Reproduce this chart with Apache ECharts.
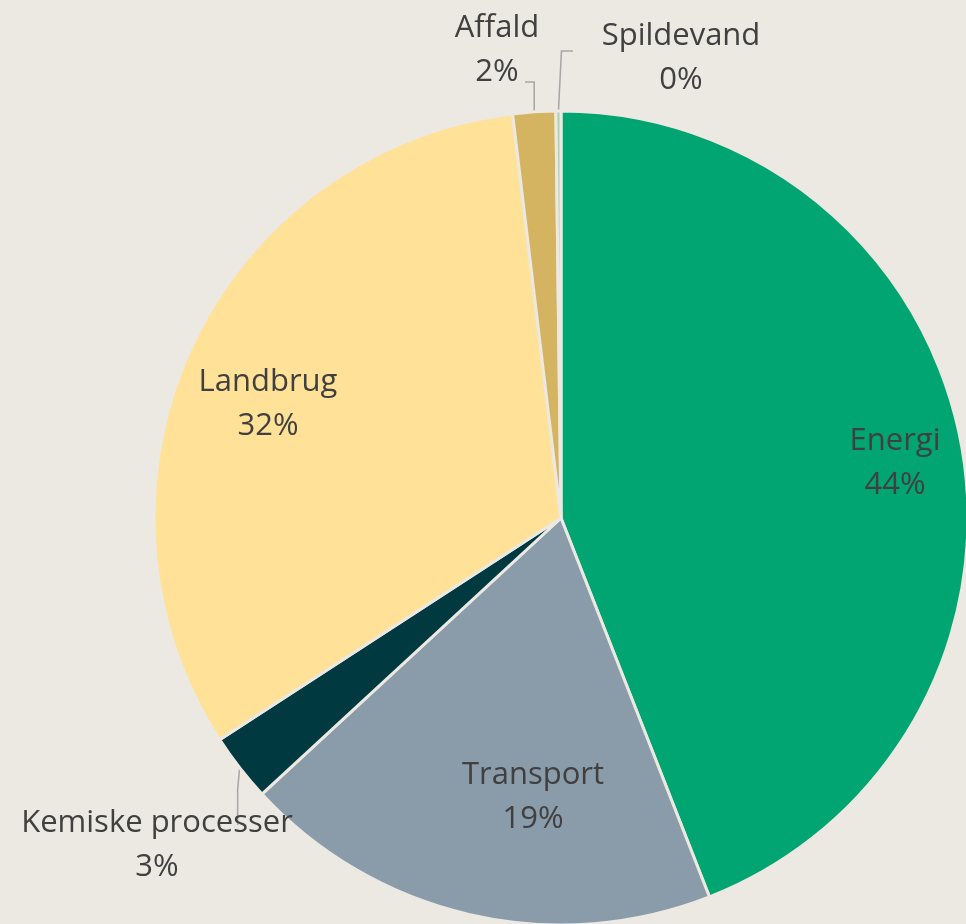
<!DOCTYPE html>
<html>
<head>
<meta charset="utf-8">
<script src="https://cdn.jsdelivr.net/npm/echarts@6/dist/echarts.min.js"></script>
<style>
html,body{margin:0;padding:0;background:#ECE8E2;}
#chartDiv{width:966px;height:924px;}
</style>
</head>
<body>
<div id="chartDiv"></div>
<script>
// udledning fordelt på sektorer
var sectorNames = ['Energi', 'Transport', 'Kemiske processer', 'Landbrug', 'Affald', 'Spildevand'];
var sectorValues = [44.1, 19.1, 2.7, 32.3, 1.7, 0.2];
var sectorColors = ['#00A572', '#8A9BA9', '#003A40', '#FFE197', '#D4B460', '#A9D6AE'];

// hvor teksterne står (midtpunkt af label)
var labelSpots = {
	'Energi': [895, 463],
	'Transport': [533, 797],
	'Landbrug': [268, 404],
	'Kemiske processer': [157, 845],
	'Affald': [497, 50],
	'Spildevand': [681, 58]
};
var outsideNames = ['Kemiske processer', 'Affald', 'Spildevand'];

var myChart = echarts.init(document.getElementById('chartDiv'));

var seriesData = [];
for (var i = 0; i < sectorNames.length; i++) {
	var outside = outsideNames.indexOf(sectorNames[i]) >= 0;
	seriesData.push({
		name: sectorNames[i],
		value: sectorValues[i],
		itemStyle: {color: sectorColors[i]},
		label: {position: outside ? 'outside' : 'inside'},
		labelLine: {show: outside}
	});
}

var option = {
	backgroundColor: '#ECE8E2',
	animation: false,
	series: [{
		type: 'pie',
		center: [561, 518],
		radius: 407,
		startAngle: 90,
		clockwise: true,
		percentPrecision: 0,
		avoidLabelOverlap: false,
		minShowLabelAngle: 0,
		itemStyle: {borderColor: '#ECE8E2', borderWidth: 3},
		label: {
			show: true,
			formatter: '{b}\n{d}%',
			color: '#404040',
			fontFamily: 'Open Sans',
			fontSize: 31,
			lineHeight: 44,
			align: 'center'
		},
		labelLine: {
			lineStyle: {color: '#A6A6A6', width: 1.5},
			length: 20,
			length2: 10
		},
		labelLayout: function(params) {
			var name = sectorNames[params.dataIndex];
			var spot = labelSpots[name];
			var res = {x: spot[0], y: spot[1], align: 'center', verticalAlign: 'middle'};
			var pts = params.labelLinePoints;
			if (pts && outsideNames.indexOf(name) >= 0) {
				var p0 = pts[0];
				if (name == 'Affald') {
					res.labelLinePoints = [p0, [p0[0], 82], [525, 82]];
				} else if (name == 'Spildevand') {
					res.labelLinePoints = [p0, [p0[0] + 3, 51], [573, 51]];
				} else {
					res.labelLinePoints = [p0, [p0[0] - 2, 790], [p0[0] - 2, 825]];
				}
			}
			return res;
		},
		data: seriesData
	}]
};

myChart.setOption(option);
</script>
</body>
</html>
